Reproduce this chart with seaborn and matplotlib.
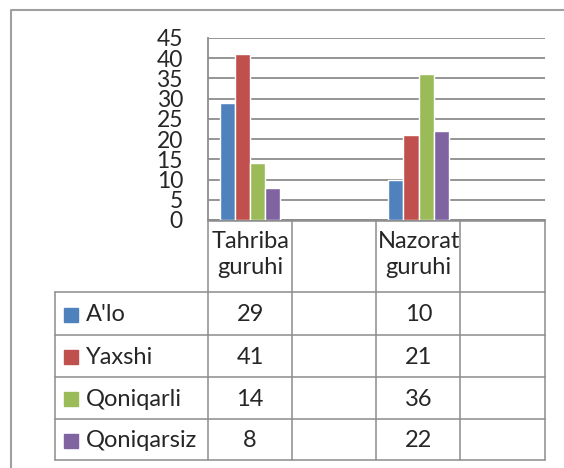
import pandas as pd
import seaborn as sns
import matplotlib.pyplot as plt
from matplotlib.lines import Line2D
from matplotlib.patches import Rectangle
from matplotlib import transforms

# categories on the x axis (two empty slots, as in the original Excel chart)
groups = ["Tahriba\nguruhi", " ", "Nazorat\nguruhi", "  "]
grades = ["A'lo", "Yaxshi", "Qoniqarli", "Qoniqarsiz"]
tahriba = [29, 41, 14, 8]
nazorat = [10, 21, 36, 22]
colors = ["#4F81BD", "#C0504D", "#9BBB59", "#8064A2"]

W, H = 564, 468
GRID = "#8c8c8c"


def fx(x):
  return x / W


def fy(y):
  return 1 - y / H


rows = []
for g, vals in [(groups[0], tahriba), (groups[2], nazorat)]:
  for gr, v in zip(grades, vals):
    rows.append({"guruh": g, "baho": gr, "soni": v})
df = pd.DataFrame(rows)

sns.set_style("white")
plt.rcParams['font.family'] = ['Lato', 'DejaVu Sans']

fig = plt.figure(figsize=(W / 100, H / 100), dpi=100)
ax = fig.add_axes([fx(208), fy(220), fx(545) - fx(208), fy(38) - fy(220)])

sns.barplot(data=df, x="guruh", y="soni", hue="baho", order=groups,
            hue_order=grades, palette=colors, saturation=1, width=0.72,
            ax=ax, legend=False, zorder=3)

ax.set_xlim(-0.5, 3.5)
ax.set_ylim(0, 45)
ax.set_yticks(range(0, 46, 5))
ax.set_xlabel("")
ax.set_ylabel("")
ax.set_xticks(range(len(groups)))
ax.set_xticklabels(groups, linespacing=1.3)
ax.tick_params(axis="x", length=0, pad=8, labelsize=17)
ax.tick_params(axis="y", length=6, width=1.1, color=GRID, pad=12,
               labelsize=16.5, direction="out")
ax.grid(axis="y", color=GRID, lw=1.3, zorder=0)
ax.set_axisbelow(True)
sns.despine(ax=ax, top=True, right=True)
for s in ["left", "bottom"]:
  ax.spines[s].set_color(GRID)
  ax.spines[s].set_linewidth(1.3)

# data table under the chart
lw = 1.1
row_y = [292, 335, 377, 419, 460]
col_x = [208, 292, 376, 460, 545]
def hline(x0, x1, y):
  fig.add_artist(Line2D([fx(x0), fx(x1)], [fy(y), fy(y)], color=GRID, lw=lw))
def vline(x, y0, y1):
  fig.add_artist(Line2D([fx(x), fx(x)], [fy(y0), fy(y1)], color=GRID, lw=lw))

hline(208, 545, 221)
for y in row_y:
  hline(55, 545, y)
for x in col_x:
  vline(x, 221, 460)
vline(55, 292, 460)

tr = transforms.blended_transform_factory(ax.transData, fig.transFigure)
for i, (gr, c) in enumerate(zip(grades, colors)):
  yc = (row_y[i] + row_y[i + 1]) / 2
  fig.add_artist(Rectangle((fx(64), fy(yc + 8)), fx(14), 14 / H,
                           color=c, transform=fig.transFigure))
  fig.text(fx(86), fy(yc + 1), gr, fontsize=17, va="center", ha="left")
  ax.text(0, fy(yc + 1), str(tahriba[i]), transform=tr, fontsize=17,
          ha="center", va="center")
  ax.text(2, fy(yc + 1), str(nazorat[i]), transform=tr, fontsize=17,
          ha="center", va="center")

# outer chart frame (cut off at right and bottom)
fig.add_artist(Line2D([fx(11), fx(11), fx(564)], [fy(468), fy(10), fy(10)],
                      color="#a0a0a0", lw=1.5))

fig.savefig("out.png", dpi=100)
